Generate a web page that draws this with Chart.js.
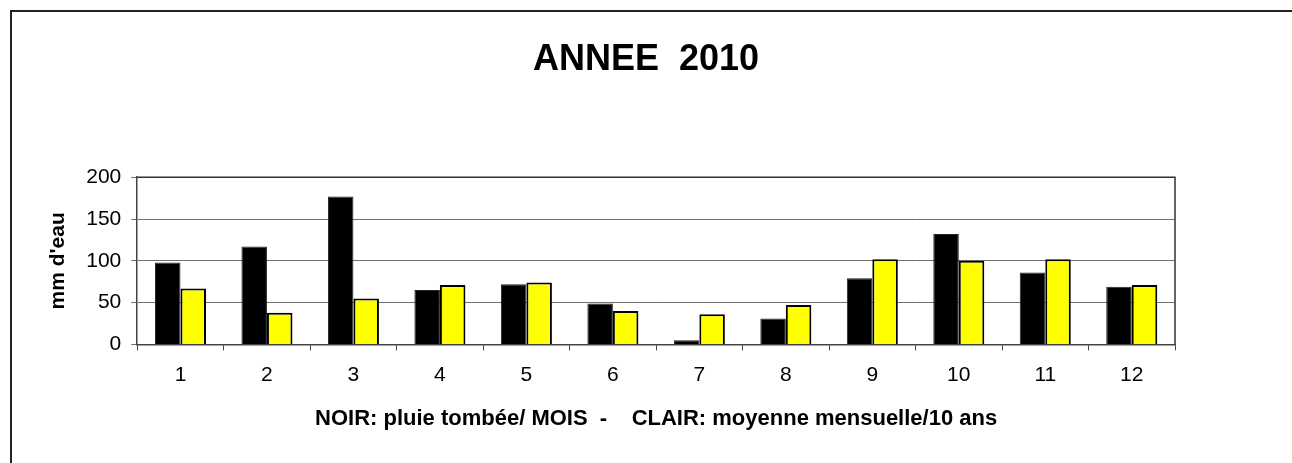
<!DOCTYPE html>
<html>
<head>
<meta charset="utf-8">
<script src="https://cdn.jsdelivr.net/npm/chart.js@4/dist/chart.umd.min.js"></script>
<style>
  html, body { margin: 0; padding: 0; background: #ffffff; overflow: hidden; }
  #c { display: block; }
</style>
</head>
<body>
<canvas id="c" width="1292" height="463"></canvas>
<script>
const months = ['1', '2', '3', '4', '5', '6', '7', '8', '9', '10', '11', '12'];
const pluieTombee = [98, 117, 177, 65, 72, 49, 5, 31, 79, 132, 86, 69];
const moyenne10Ans = [67, 38, 55, 71, 74, 40, 36, 47, 102, 100, 102, 71];
const chartTitle = 'ANNEE  2010';
const yTitle = "mm d'eau";
const xTitle = 'NOIR: pluie tombée/ MOIS  -    CLAIR: moyenne mensuelle/10 ans';

const FONT = "'Liberation Sans', Arial, Helvetica, sans-serif";

const framePlugin = {
  id: 'frame',
  beforeDraw(chart) {
    const ctx = chart.ctx;
    ctx.save();
    ctx.fillStyle = '#ffffff';
    ctx.fillRect(0, 0, chart.width, chart.height);
    ctx.strokeStyle = '#222222';
    ctx.lineWidth = 2;
    ctx.beginPath();
    ctx.moveTo(11, chart.height + 5);
    ctx.lineTo(11, 11);
    ctx.lineTo(chart.width + 5, 11);
    ctx.stroke();
    ctx.restore();
  },
  afterDatasetsDraw(chart) {
    const a = chart.chartArea;
    const ctx = chart.ctx;
    ctx.save();
    ctx.strokeStyle = '#333333';
    ctx.lineWidth = 1.5;
    ctx.beginPath();
    ctx.moveTo(a.left, a.top);
    ctx.lineTo(a.right, a.top);
    ctx.lineTo(a.right, a.bottom);
    ctx.stroke();
    ctx.restore();
  }
};

new Chart(document.getElementById('c'), {
  type: 'bar',
  data: {
    labels: months,
    datasets: [
      {
        label: 'pluie tombée',
        data: pluieTombee,
        backgroundColor: '#000000',
        borderColor: '#222222',
        borderWidth: 1,
        categoryPercentage: 0.59,
        barPercentage: 1.0
      },
      {
        label: 'moyenne mensuelle/10 ans',
        data: moyenne10Ans,
        backgroundColor: '#ffff00',
        borderColor: '#000000',
        borderWidth: 2,
        categoryPercentage: 0.59,
        barPercentage: 1.0
      }
    ]
  },
  options: {
    responsive: false,
    animation: false,
    devicePixelRatio: 1,
    layout: { padding: { left: 0, right: 0, top: 0, bottom: 0 } },
    plugins: {
      legend: { display: false },
      tooltip: { enabled: false },
      title: {
        display: true,
        text: chartTitle,
        color: '#000000',
        font: { family: FONT, size: 36, weight: 'bold' },
        padding: { top: 38, bottom: 96 }
      }
    },
    scales: {
      x: {
        grid: {
          display: true,
          offset: true,
          drawOnChartArea: false,
          drawTicks: true,
          tickLength: 6,
          color: '#444444'
        },
        border: { display: true, color: '#444444', width: 1.5 },
        ticks: {
          color: '#000000',
          font: { family: FONT, size: 21 },
          padding: 12,
          maxRotation: 0
        },
        title: {
          display: true,
          text: xTitle,
          color: '#000000',
          font: { family: FONT, size: 22, weight: 'bold' },
          padding: { top: 6, bottom: 31 }
        }
      },
      y: {
        min: 0,
        max: 200,
        ticks: {
          stepSize: 50,
          color: '#000000',
          font: { family: FONT, size: 21 },
          padding: 10
        },
        grid: {
          color: '#707070',
          lineWidth: 1,
          tickLength: 6,
          drawTicks: true
        },
        border: { display: true, color: '#444444', width: 1.5 },
        title: {
          display: true,
          text: yTitle,
          color: '#000000',
          font: { family: FONT, size: 21, weight: 'bold' },
          padding: { top: 46, bottom: 5 }
        }
      },
      yRightSpace: {
        position: 'right',
        display: true,
        grid: { display: false },
        border: { display: false },
        ticks: { display: false },
        afterFit(scale) { scale.width = 117; }
      }
    }
  },
  plugins: [framePlugin]
});
</script>
</body>
</html>
